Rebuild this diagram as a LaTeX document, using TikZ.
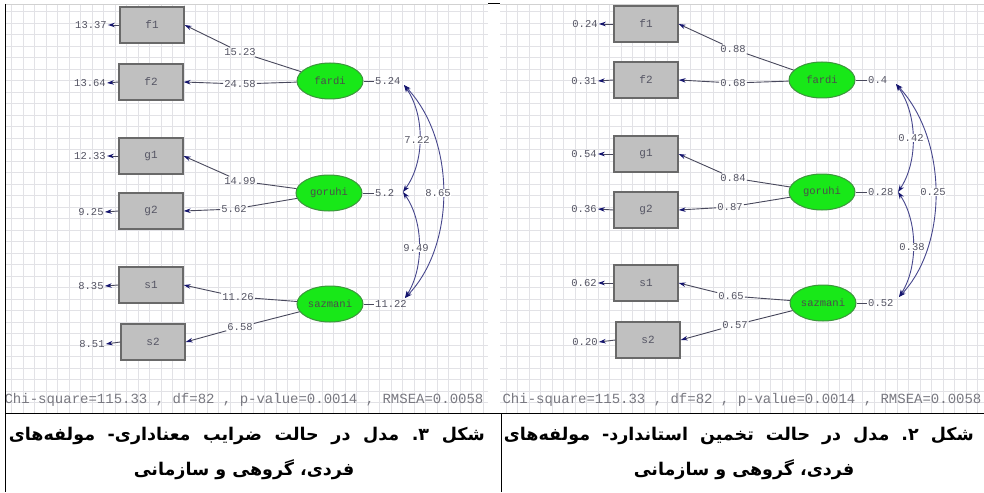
\documentclass[tikz,border=0pt]{standalone}
\usepackage{fontspec}
\usetikzlibrary{arrows.meta,shapes.geometric}
\TeXXeTstate=1
\newfontfamily\arabicfont[Script=Arabic]{DejaVu Sans}
\newfontfamily\lisfont{Liberation Mono}

\definecolor{gridc}{RGB}{226,226,230}
\definecolor{boxfill}{RGB}{192,192,192}
\definecolor{boxedge}{RGB}{105,105,105}
\definecolor{latfill}{RGB}{24,232,24}
\definecolor{latedge}{RGB}{60,150,60}
\definecolor{pathc}{RGB}{72,72,92}
\definecolor{tipc}{RGB}{20,20,110}
\definecolor{numc}{RGB}{85,85,100}
\definecolor{covc}{RGB}{70,70,140}
\definecolor{chic}{RGB}{120,120,128}

\tikzset{
  obs/.style={draw=boxedge, line width=1.3pt, fill=boxfill, minimum width=64pt,
    minimum height=36pt, inner sep=0pt, text=numc,
    font=\lisfont\fontsize{11}{11}\selectfont},
  lat/.style={ellipse, draw=latedge, line width=1pt, fill=latfill, minimum width=66pt,
    minimum height=36pt, inner sep=0pt, text=black!70,
    font=\lisfont\fontsize{10.5}{10.5}\selectfont},
  num/.style={inner sep=1pt, text=numc, font=\lisfont\fontsize{10.5}{10.5}\selectfont},
  covlab/.style={num, fill=white, inner sep=0.5pt},
  plainpath/.style={draw=pathc, line width=0.9pt},
  load/.style={plainpath, -{Stealth[length=7pt,width=4.5pt,color=tipc]}},
  errarr/.style={plainpath, -{Stealth[length=7pt,width=4.5pt,color=tipc]}},
  covpath/.style={draw=covc, line width=0.9pt,
    {Stealth[length=7pt,width=5pt,color=tipc]}-{Stealth[length=7pt,width=5pt,color=tipc]}},
  chitext/.style={inner sep=0pt, text=chic, font=\lisfont\fontsize{14}{14}\selectfont},
  captext/.style={inner sep=0pt,
    font=\arabicfont\bfseries\fontsize{17.5}{17.5}\selectfont\frenchspacing},
  tablerule/.style={draw=black, line width=1pt}
}

\begin{document}
\begin{tikzpicture}[x=1pt,y=-1pt]
\useasboundingbox (0,0) rectangle (984,492);
\fill[white] (0,0) rectangle (984,492);

% ---------- background grids of the two path diagrams ----------
\draw[gridc, step=11.5pt] (6,4) grid (488,413);
\draw[gridc, step=11.5pt] (500,4) grid (984,413);
\draw[black!18] (6,4) -- (488,4);
\draw[black!18] (500,4) -- (984,4);

% ================= left diagram: t-values =================
\node[obs] (Lf1) at (152,25)  {f1};
\node[obs] (Lf2) at (151,82)  {f2};
\node[obs] (Lg1) at (151,156) {g1};
\node[obs] (Lg2) at (151,211) {g2};
\node[obs] (Ls1) at (151,285) {s1};
\node[obs] (Ls2) at (153,342) {s2};

\node[lat] (Lfa) at (330,81)  {fardi};
\node[lat] (Lgo) at (329,193) {goruhi};
\node[lat] (Lsa) at (330,304) {sazmani};

\node[num] (Lef1) at (91,25)  {13.37};
\node[num] (Lef2) at (90,83)  {13.64};
\node[num] (Leg1) at (90,156) {12.33};
\node[num] (Leg2) at (91,212) {9.25};
\node[num] (Les1) at (91,286) {8.35};
\node[num] (Les2) at (92,344) {8.51};

\node[num] (Llf1) at (240,52)  {15.23};
\node[num] (Llf2) at (240,84)  {24.58};
\node[num] (Llg1) at (240,181) {14.99};
\node[num] (Llg2) at (234,209) {5.62};
\node[num] (Lls1) at (238,297) {11.26};
\node[num] (Lls2) at (240,327) {6.58};

\node[num, anchor=west] (Lvfa) at (374,81)  {5.24};
\node[num, anchor=west] (Lvgo) at (374,193) {5.2};
\node[num, anchor=west] (Lvsa) at (374,304) {11.22};
\coordinate (Lcfa) at (404,85);
\coordinate (Lcgo) at (403,192);
\coordinate (Lcsa) at (405,298);

\foreach \o in {f1,f2,g1,g2,s1,s2}{
  \draw[errarr] (L\o.west) -- (Le\o.east);
}
\draw[plainpath] (Lfa) -- (Llf1);  \draw[load] (Llf1) -- (Lf1.east);
\draw[plainpath] (Lfa) -- (Llf2);  \draw[load] (Llf2) -- (Lf2.east);
\draw[plainpath] (Lgo) -- (Llg1);  \draw[load] (Llg1) -- (Lg1.east);
\draw[plainpath] (Lgo) -- (Llg2);  \draw[load] (Llg2) -- (Lg2.east);
\draw[plainpath] (Lsa) -- (Lls1);  \draw[load] (Lls1) -- (Ls1.east);
\draw[plainpath] (Lsa) -- (Lls2);  \draw[load] (Lls2) -- (Ls2.east);
\draw[plainpath] (Lfa) -- (Lvfa);
\draw[plainpath] (Lgo) -- (Lvgo);
\draw[plainpath] (Lsa) -- (Lvsa);

\draw[covpath] (Lcfa) .. controls (425,115) and (425,162) .. (Lcgo);
\draw[covpath] (Lcgo) .. controls (424,222) and (424,268) .. (Lcsa);
\draw[covpath] (Lcfa) .. controls (456,140) and (456,245) .. (Lcsa);
\node[covlab] (Lk1) at (417,140) {7.22};
\node[covlab] (Lk2) at (416,248) {9.49};
\node[covlab] (Lk3) at (438,193) {8.65};

\node[chitext] (Lchi) at (244,400) {Chi-square=115.33 , df=82 , p-value=0.0014 , RMSEA=0.0058};

% ================= right diagram: standardized =================
\node[obs] (Rf1) at (646,24)  {f1};
\node[obs] (Rf2) at (646,80)  {f2};
\node[obs] (Rg1) at (646,154) {g1};
\node[obs] (Rg2) at (646,210) {g2};
\node[obs] (Rs1) at (646,283) {s1};
\node[obs] (Rs2) at (648,340) {s2};

\node[lat] (Rfa) at (822,80)  {fardi};
\node[lat] (Rgo) at (822,192) {goruhi};
\node[lat] (Rsa) at (823,303) {sazmani};

\node[num] (Ref1) at (585,24)  {0.24};
\node[num] (Ref2) at (584,81)  {0.31};
\node[num] (Reg1) at (584,154) {0.54};
\node[num] (Reg2) at (584,209) {0.36};
\node[num] (Res1) at (584,283) {0.62};
\node[num] (Res2) at (585,342) {0.20};

\node[num] (Rlf1) at (733,49)  {0.88};
\node[num] (Rlf2) at (733,83)  {0.68};
\node[num] (Rlg1) at (733,178) {0.84};
\node[num] (Rlg2) at (730,207) {0.87};
\node[num] (Rls1) at (731,296) {0.65};
\node[num] (Rls2) at (735,325) {0.57};

\node[num, anchor=west] (Rvfa) at (867,80)  {0.4};
\node[num, anchor=west] (Rvgo) at (867,192) {0.28};
\node[num, anchor=west] (Rvsa) at (867,303) {0.52};
\coordinate (Rcfa) at (896,84);
\coordinate (Rcgo) at (898,192);
\coordinate (Rcsa) at (899,297);

\foreach \o in {f1,f2,g1,g2,s1,s2}{
  \draw[errarr] (R\o.west) -- (Re\o.east);
}
\draw[plainpath] (Rfa) -- (Rlf1);  \draw[load] (Rlf1) -- (Rf1.east);
\draw[plainpath] (Rfa) -- (Rlf2);  \draw[load] (Rlf2) -- (Rf2.east);
\draw[plainpath] (Rgo) -- (Rlg1);  \draw[load] (Rlg1) -- (Rg1.east);
\draw[plainpath] (Rgo) -- (Rlg2);  \draw[load] (Rlg2) -- (Rg2.east);
\draw[plainpath] (Rsa) -- (Rls1);  \draw[load] (Rls1) -- (Rs1.east);
\draw[plainpath] (Rsa) -- (Rls2);  \draw[load] (Rls2) -- (Rs2.east);
\draw[plainpath] (Rfa) -- (Rvfa);
\draw[plainpath] (Rgo) -- (Rvgo);
\draw[plainpath] (Rsa) -- (Rvsa);

\draw[covpath] (Rcfa) .. controls (918,115) and (918,162) .. (Rcgo);
\draw[covpath] (Rcgo) .. controls (918,222) and (918,268) .. (Rcsa);
\draw[covpath] (Rcfa) .. controls (948,140) and (948,245) .. (Rcsa);
\node[covlab] (Rk1) at (911,138) {0.42};
\node[covlab] (Rk2) at (912,247) {0.38};
\node[covlab] (Rk3) at (933,192) {0.25};

\node[chitext] (Rchi) at (742,400) {Chi-square=115.33 , df=82 , p-value=0.0014 , RMSEA=0.0058};

% ---------- table rules ----------
\draw[tablerule] (5.5,4) -- (5.5,492);
\draw[tablerule] (5,413.5) -- (984,413.5);
\draw[tablerule] (501.5,413.5) -- (501.5,492);
\draw[tablerule] (488,4) -- (500,4);

% ---------- captions (first line justified to the cell width) ----------
\node[captext, anchor=east] (capL1) at (485,436)
  {\hbox to 476pt{\beginR شکل ۳. مدل در حالت ضرایب معناداری- مولفه‌های\endR}};
\node[captext] (capL2) at (244,470) {\beginR فردی، گروهی و سازمانی\endR};
\node[captext, anchor=east] (capR1) at (974,436)
  {\hbox to 470pt{\beginR شکل ۲. مدل در حالت تخمین استاندارد- مولفه‌های\endR}};
\node[captext] (capR2) at (744,470) {\beginR فردی، گروهی و سازمانی\endR};
\end{tikzpicture}
\end{document}
